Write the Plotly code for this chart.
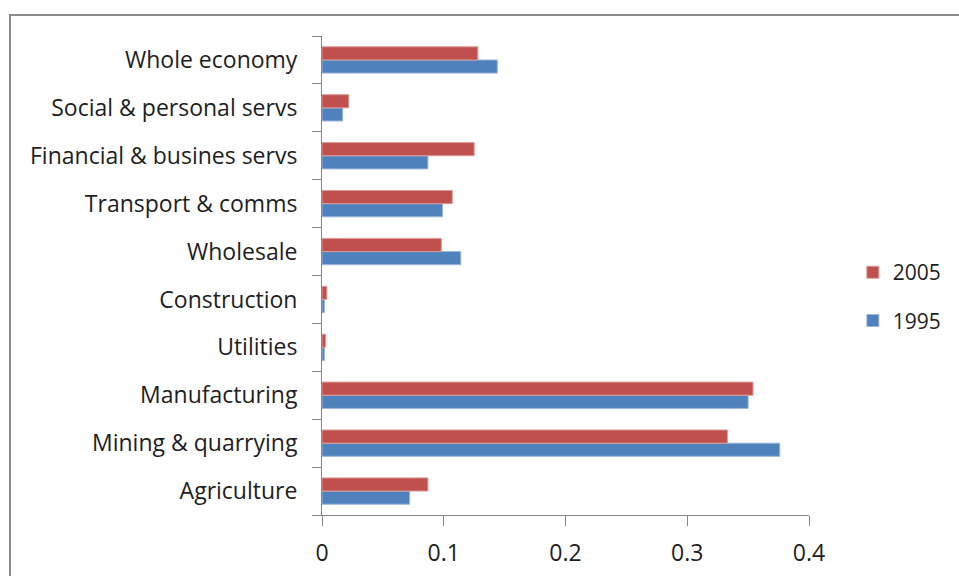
import plotly.graph_objects as go

# Sectors, listed bottom to top
sectors = [
    "Agriculture",
    "Mining & quarrying",
    "Manufacturing",
    "Utilities",
    "Construction",
    "Wholesale",
    "Transport & comms",
    "Financial & busines servs",
    "Social & personal servs",
    "Whole economy",
]
values_1995 = [0.072, 0.376, 0.350, 0.002, 0.002, 0.114, 0.099, 0.087, 0.017, 0.144]
values_2005 = [0.087, 0.333, 0.354, 0.003, 0.004, 0.098, 0.107, 0.125, 0.022, 0.128]
x_ticks = [0, 0.1, 0.2, 0.3, 0.4]
x_tick_labels = ["0", "0.1", "0.2", "0.3", "0.4"]

FONT = "Open Sans"
AXIS_GREY = "#868686"

fig = go.Figure()
fig.add_trace(go.Bar(
    y=sectors, x=values_1995, name="1995", orientation="h",
    marker=dict(color="#4F81BD", line=dict(color="#9DB8DB", width=1)),
    legendgroup="a", legendrank=2,
))
fig.add_trace(go.Bar(
    y=sectors, x=values_2005, name="2005", orientation="h",
    marker=dict(color="#C0504D", line=dict(color="#DE9C9A", width=1)),
    legendgroup="b", legendrank=1,
))

fig.update_layout(
    width=959, height=576,
    margin=dict(l=322, r=150, t=36, b=61, autoexpand=False),
    paper_bgcolor="white", plot_bgcolor="white",
    barmode="group", bargap=0.45, bargroupgap=0,
    font=dict(family=FONT, size=23, color="#1e1e1e"),
    showlegend=True,
    legend=dict(
        x=1.09, y=0.456, xanchor="left", yanchor="middle",
        traceorder="grouped", tracegroupgap=18,
        font=dict(family=FONT, size=21, color="#1e1e1e"),
        bgcolor="rgba(0,0,0,0)", itemwidth=30,
    ),
    xaxis=dict(
        range=[0, 0.4], tickvals=x_ticks, ticktext=x_tick_labels,
        showgrid=False, zeroline=False, automargin=False,
        showline=True, linecolor=AXIS_GREY, linewidth=1,
        ticks="outside", ticklen=10, tickcolor=AXIS_GREY,
        tickfont=dict(family=FONT, size=23), ticklabelstandoff=7,
    ),
    yaxis=dict(
        type="category", categoryorder="array", categoryarray=sectors,
        showgrid=False, zeroline=False, automargin=False,
        showline=True, linecolor=AXIS_GREY, linewidth=1,
        ticks="outside", ticklen=9, tickcolor=AXIS_GREY,
        tickson="boundaries", tickfont=dict(family=FONT, size=23),
        ticklabelstandoff=19,
    ),
    shapes=[dict(
        type="rect", xref="paper", yref="paper",
        x0=(10 - 322) / 487, x1=1.4, y0=-0.2, y1=1 + (36 - 15) / 479,
        line=dict(color="#8C8C8C", width=2), fillcolor="rgba(0,0,0,0)",
        layer="below",
    )],
)

fig.write_html("out.html")
